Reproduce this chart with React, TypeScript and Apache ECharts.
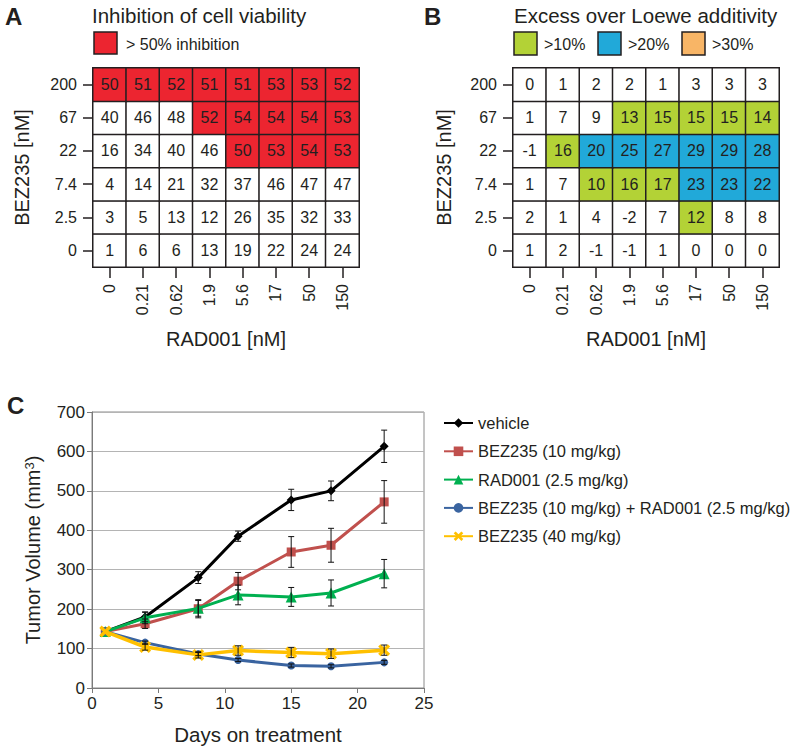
import React, { useEffect, useRef } from 'react';
import * as echarts from 'echarts';

// ---------- Panel A / B data ----------
const rad001Labels = ['0', '0.21', '0.62', '1.9', '5.6', '17', '50', '150'];
const bez235Labels = ['0', '2.5', '7.4', '22', '67', '200']; // bottom -> top

// rows follow bez235Labels (bottom -> top), columns follow rad001Labels
const inhibition = [
  [1, 6, 6, 13, 19, 22, 24, 24],
  [3, 5, 13, 12, 26, 35, 32, 33],
  [4, 14, 21, 32, 37, 46, 47, 47],
  [16, 34, 40, 46, 50, 53, 54, 53],
  [40, 46, 48, 52, 54, 54, 54, 53],
  [50, 51, 52, 51, 51, 53, 53, 52],
];
const excess = [
  [1, 2, -1, -1, 1, 0, 0, 0],
  [2, 1, 4, -2, 7, 12, 8, 8],
  [1, 7, 10, 16, 17, 23, 23, 22],
  [-1, 16, 20, 25, 27, 29, 29, 28],
  [1, 7, 9, 13, 15, 15, 15, 14],
  [0, 1, 2, 2, 1, 3, 3, 3],
];
const inhibitionThreshold = 50;
const inhibitionColor = '#ec2530';
const excessThresholds = [10, 20, 30];
const excessColors = ['#b3d236', '#21a9d9', '#f8b566'];
const excessLegend = ['>10%', '>20%', '>30%'];

// ---------- Panel C data ----------
const days = [1, 4, 8, 11, 15, 18, 22];
const seriesNames = [
  'vehicle',
  'BEZ235 (10 mg/kg)',
  'RAD001 (2.5 mg/kg)',
  'BEZ235 (10 mg/kg) + RAD001 (2.5 mg/kg)',
  'BEZ235 (40 mg/kg)',
];
const vehicleMean = [143, 180, 280, 385, 477, 500, 613];
const vehicleErr = [0, 12, 15, 13, 27, 25, 41];
const bez10Mean = [143, 163, 201, 271, 345, 362, 472];
const bez10Err = [0, 12, 23, 22, 39, 43, 54];
const radMean = [143, 178, 202, 236, 231, 241, 290];
const radErr = [0, 15, 20, 25, 24, 33, 36];
const comboMean = [143, 115, 86, 71, 57, 55, 65];
const comboErr = [0, 4, 4, 4, 4, 4, 5];
const bez40Mean = [143, 104, 84, 95, 90, 87, 96];
const bez40Err = [0, 8, 8, 12, 13, 12, 13];

const seriesColors = ['#000000', '#c0504d', '#00b050', '#3a64a0', '#ffc000'];
const xSymbol = 'path://M0,2 L2,0 L5,3 L8,0 L10,2 L7,5 L10,8 L8,10 L5,7 L2,10 L0,8 L3,5 Z';
const seriesSymbols = ['diamond', 'rect', 'triangle', 'circle', xSymbol];
const seriesSymbolSizes = [9, 9, 11, 8, 12];

const FONT = 'Liberation Sans, Arial, Helvetica, sans-serif';
const INK = '#231f20';

function heatData(rows: number[][]) {
  const out: number[][] = [];
  rows.forEach((row, yi) => {
    row.forEach((v, xi) => {
      out.push([xi, yi, v]);
    });
  });
  return out;
}

function heatXAxis(gridIndex: number) {
  return {
    type: 'category',
    gridIndex,
    data: rad001Labels,
    position: 'bottom',
    axisLine: { show: false },
    axisTick: { show: true, alignWithLabel: true, length: 11, lineStyle: { color: INK, width: 1.5 } },
    axisLabel: { rotate: 90, margin: 17, fontSize: 16, color: INK, fontFamily: FONT },
    splitLine: { show: false },
    name: 'RAD001 [nM]',
    nameLocation: 'middle',
    nameGap: 62,
    nameTextStyle: { fontSize: 20, color: INK, fontFamily: FONT },
  };
}
function heatYAxis(gridIndex: number, nameGap: number) {
  return {
    type: 'category',
    gridIndex,
    data: bez235Labels,
    axisLine: { show: false },
    axisTick: { show: true, alignWithLabel: true, length: 10, lineStyle: { color: INK, width: 1.5 } },
    axisLabel: { margin: 16, fontSize: 16, color: INK, fontFamily: FONT },
    splitLine: { show: false },
    name: 'BEZ235 [nM]',
    nameLocation: 'middle',
    nameGap,
    nameTextStyle: { fontSize: 20, color: INK, fontFamily: FONT },
  };
}

function heatSeries(idx: number, rows: number[][]) {
  return {
    type: 'heatmap',
    xAxisIndex: idx,
    yAxisIndex: idx,
    data: heatData(rows),
    itemStyle: { borderColor: INK, borderWidth: 1.5 },
    label: {
      show: true,
      fontSize: 16,
      color: INK,
      fontFamily: FONT,
      formatter: (p: any) => String(p.value[2]),
    },
    emphasis: { disabled: true },
  };
}

function errorData(mean: number[], err: number[]) {
  const out: number[][] = [];
  days.forEach((d, i) => {
    if (err[i] > 0) out.push([d, mean[i] - err[i], mean[i] + err[i]]);
  });
  return out;
}

export default function App() {
  const ref = useRef<HTMLDivElement>(null);
  useEffect(() => {
    if (!ref.current) return;
    const chart = echarts.init(ref.current, undefined, { renderer: 'svg' });
    const means = [vehicleMean, bez10Mean, radMean, comboMean, bez40Mean];
    const errs = [vehicleErr, bez10Err, radErr, comboErr, bez40Err];

    const lineSeries = seriesNames.map((name, i) => ({
      type: 'line',
      name,
      xAxisIndex: 2,
      yAxisIndex: 2,
      data: days.map((d, k) => [d, means[i][k]]),
      symbol: seriesSymbols[i],
      symbolSize: seriesSymbolSizes[i],
      showAllSymbol: true,
      lineStyle: { color: seriesColors[i], width: i === 4 ? 3.5 : 3 },
      itemStyle: { color: seriesColors[i] },
      z: 2 + i,
      emphasis: { disabled: true },
    }));

    const errSeries = {
      type: 'custom',
      xAxisIndex: 2,
      yAxisIndex: 2,
      z: 10,
      data: means.flatMap((m, i) => errorData(m, errs[i])),
      encode: { x: 0, y: [1, 2] },
      renderItem: (_params: any, api: any) => {
        const x = api.value(0);
        const lo = api.value(1);
        const hi = api.value(2);
        const p1 = api.coord([x, hi]);
        const p2 = api.coord([x, lo]);
        const cap = 3;
        const style = { stroke: '#111', lineWidth: 1 };
        return {
          type: 'group',
          children: [
            { type: 'line', shape: { x1: p1[0], y1: p1[1], x2: p2[0], y2: p2[1] }, style },
            { type: 'line', shape: { x1: p1[0] - cap, y1: p1[1], x2: p1[0] + cap, y2: p1[1] }, style },
            { type: 'line', shape: { x1: p2[0] - cap, y1: p2[1], x2: p2[0] + cap, y2: p2[1] }, style },
          ],
        };
      },
    };

    const graphicEls: any[] = [
      { type: 'text', x: 5, y: 16, style: { text: 'A', fontSize: 24, fontWeight: 'bold', fill: INK, fontFamily: FONT, textVerticalAlign: 'middle' } },
      { type: 'text', x: 424, y: 16, style: { text: 'B', fontSize: 24, fontWeight: 'bold', fill: INK, fontFamily: FONT, textVerticalAlign: 'middle' } },
      { type: 'text', x: 7, y: 405, style: { text: 'C', fontSize: 24, fontWeight: 'bold', fill: INK, fontFamily: FONT, textVerticalAlign: 'middle' } },
      { type: 'text', x: 92, y: 15, style: { text: 'Inhibition of cell viability', fontSize: 20.5, fill: INK, fontFamily: FONT, textVerticalAlign: 'middle' } },
      { type: 'text', x: 514, y: 15, style: { text: 'Excess over Loewe additivity', fontSize: 20.5, fill: INK, fontFamily: FONT, textVerticalAlign: 'middle' } },
      { type: 'rect', shape: { x: 94, y: 32, width: 23, height: 22 }, style: { fill: inhibitionColor, stroke: INK, lineWidth: 1.5 } },
      { type: 'text', x: 126, y: 44, style: { text: '> 50% inhibition', fontSize: 16, fill: INK, fontFamily: FONT, textVerticalAlign: 'middle' } },
    ];
    const boxX = [514, 598, 682];
    excessLegend.forEach((t, i) => {
      graphicEls.push({ type: 'rect', shape: { x: boxX[i], y: 32, width: 23, height: 23 }, style: { fill: excessColors[i], stroke: INK, lineWidth: 1.5 } });
      graphicEls.push({ type: 'text', x: boxX[i] + 30, y: 44, style: { text: t, fontSize: 16, fill: INK, fontFamily: FONT, textVerticalAlign: 'middle' } });
    });

    chart.setOption({
      animation: false,
      backgroundColor: '#ffffff',
      textStyle: { fontFamily: FONT },
      visualMap: [
        {
          type: 'piecewise',
          show: false,
          seriesIndex: 0,
          dimension: 2,
          pieces: [
            { lt: inhibitionThreshold, color: '#ffffff' },
            { gte: inhibitionThreshold, color: inhibitionColor },
          ],
        },
        {
          type: 'piecewise',
          show: false,
          seriesIndex: 1,
          dimension: 2,
          pieces: [
            { lt: excessThresholds[0], color: '#ffffff' },
            { gte: excessThresholds[0], lt: excessThresholds[1], color: excessColors[0] },
            { gte: excessThresholds[1], lt: excessThresholds[2], color: excessColors[1] },
            { gte: excessThresholds[2], color: excessColors[2] },
          ],
        },
      ],
      grid: [
        { left: 93, top: 68, width: 266, height: 199 },
        { left: 513, top: 68, width: 266, height: 199 },
        { left: 92, top: 412, width: 332, height: 276, show: true, borderColor: '#8a8a8a', borderWidth: 1 },
      ],
      xAxis: [
        heatXAxis(0),
        heatXAxis(1),
        {
          type: 'value',
          gridIndex: 2,
          min: 0,
          max: 25,
          interval: 5,
          axisLine: { show: true, lineStyle: { color: '#7a7a7a', width: 1 } },
          axisTick: { show: true, length: 5, lineStyle: { color: '#7a7a7a' } },
          axisLabel: { fontSize: 17, color: INK, margin: 7, fontFamily: FONT },
          splitLine: { show: false },
          name: 'Days on treatment',
          nameLocation: 'middle',
          nameGap: 36,
          nameTextStyle: { fontSize: 20.5, color: INK, fontFamily: FONT },
        },
      ],
      yAxis: [
        heatYAxis(0, 61),
        heatYAxis(1, 59),
        {
          type: 'value',
          gridIndex: 2,
          min: 0,
          max: 700,
          interval: 100,
          axisLine: { show: true, lineStyle: { color: '#7a7a7a', width: 1 } },
          axisTick: { show: true, length: 5, lineStyle: { color: '#7a7a7a' } },
          axisLabel: { fontSize: 17, color: INK, margin: 7, fontFamily: FONT },
          splitLine: { show: true, lineStyle: { color: '#b4b4b4', width: 1 } },
          name: 'Tumor Volume (mm{sup|3})',
          nameLocation: 'middle',
          nameGap: 49,
          nameTextStyle: {
            fontSize: 20,
            color: INK,
            fontFamily: FONT,
            rich: { sup: { fontSize: 13, color: INK, fontFamily: FONT, verticalAlign: 'top', lineHeight: 14 } },
          },
        },
      ],
      legend: {
        data: seriesNames,
        orient: 'vertical',
        left: 438,
        top: 409,
        itemWidth: 29,
        itemHeight: 12,
        itemGap: 10.3,
        selectedMode: false,
        textStyle: { fontSize: 16.5, color: INK, fontFamily: FONT, lineHeight: 18 },
      },
      graphic: graphicEls,
      series: [
        heatSeries(0, inhibition),
        heatSeries(1, excess),
        ...lineSeries,
        errSeries,
      ],
    });
    return () => chart.dispose();
  }, []);
  return (
    <div
      ref={ref}
      style={{ position: 'fixed', left: 0, top: 0, width: 791, height: 750, background: '#fff' }}
    />
  );
}
